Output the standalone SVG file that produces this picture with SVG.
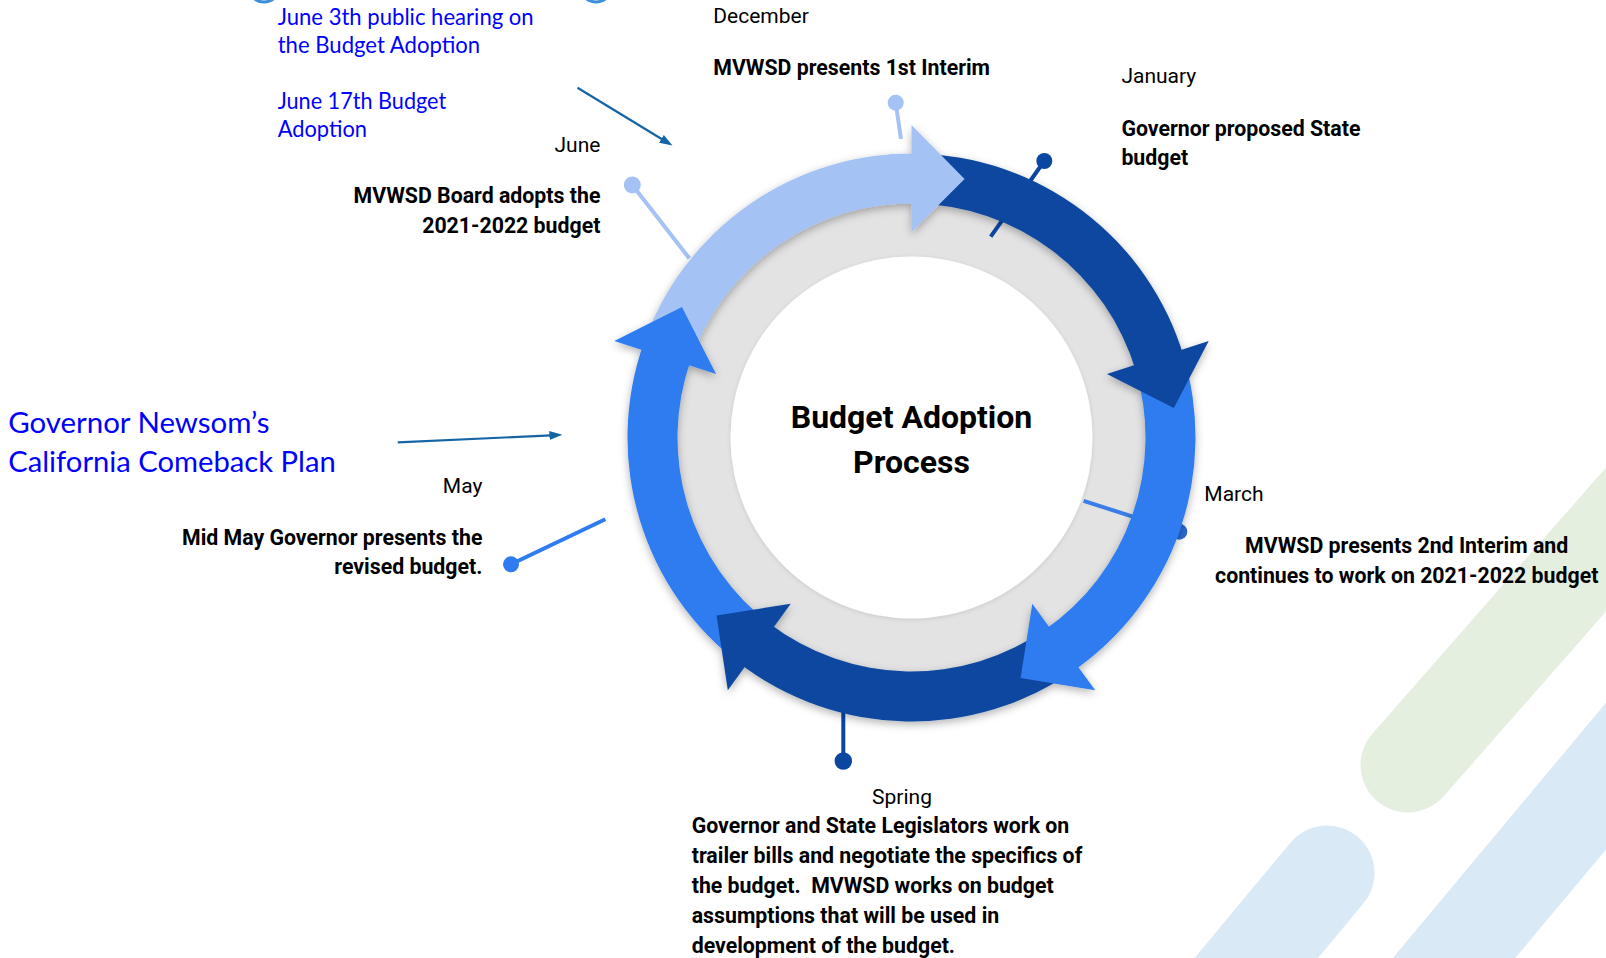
<svg xmlns="http://www.w3.org/2000/svg" width="1606" height="958" viewBox="0 0 1606 958">
  <style>
    .lbl { font-family: Roboto, "Liberation Sans", sans-serif; font-size: 21px; fill: #000; }
    .txt { font-family: Roboto, "Liberation Sans", sans-serif; font-size: 21.3px; font-weight: 700; fill: #000; }
    .title { font-family: Roboto, "Liberation Sans", sans-serif; font-size: 32px; font-weight: 700; fill: #000; text-anchor: middle; }
    .note { font-family: Lato, "Open Sans", sans-serif; fill: #0000ff; }
    .end { text-anchor: end; }
    .mid { text-anchor: middle; }
    .light { fill: #a4c2f4; }
    .dark { fill: #0b46a0; }
    .med { fill: #2f7cf0; }
    .lead { fill: none; stroke-width: 4; stroke-linecap: butt; }
    .ann { fill: none; stroke: #1565a6; stroke-width: 2.2; }
  </style>
  <defs>
    <filter id="ringShadow" x="-15%" y="-15%" width="130%" height="130%">
      <feDropShadow dx="0" dy="3" stdDeviation="4" flood-color="#000" flood-opacity="0.3"/>
    </filter>
    <filter id="softShadow" x="-10%" y="-10%" width="120%" height="120%">
      <feDropShadow dx="0" dy="1" stdDeviation="2" flood-color="#000" flood-opacity="0.12"/>
    </filter>
    <marker id="annHead" markerUnits="userSpaceOnUse" markerWidth="13" markerHeight="9" refX="7" refY="4.5" orient="auto">
      <path d="M0,0 L13,4.5 L0,9 Z" fill="#1565a6"/>
    </marker>
  </defs>

  <rect width="1606" height="958" fill="#fff"/>

  <!-- decorative stripes, bottom right -->
  <g id="decor">
    <line x1="1408" y1="765" x2="1804" y2="314" stroke="#e5efe0" stroke-width="95" stroke-linecap="round"/>
    <line x1="1327" y1="873" x2="1135" y2="1104" stroke="#d9eaf6" stroke-width="95" stroke-linecap="round"/>
    <line x1="1834" y1="503" x2="1257" y2="1194" stroke="#d9eaf6" stroke-width="94"/>
  </g>

  <!-- round edges cut by the top border -->
  <g id="top-edge">
    <circle cx="264" cy="-14" r="16" fill="none" stroke="#3d8ed8" stroke-width="3"/>
    <circle cx="596" cy="-14" r="16" fill="none" stroke="#3d8ed8" stroke-width="3"/>
  </g>

  <!-- hub: grey ring and white centre -->
  <g id="hub">
    <circle cx="911.5" cy="437.5" r="236" fill="#e3e3e3"/>
    <circle cx="911.5" cy="437.5" r="181" fill="#fff" filter="url(#softShadow)"/>
    <text class="title" x="911.5" y="428.3">Budget Adoption</text>
    <text class="title" x="911.5" y="472.7">Process</text>
  </g>

  <!-- leader lines, pins and annotation arrows -->
  <g id="connectors">
    <line class="lead" x1="895.7" y1="102.7" x2="901" y2="139" stroke="#a4c2f4"/>
    <circle cx="895.7" cy="102.7" r="8" class="light"/>
    <line class="lead" x1="1044.3" y1="161" x2="990.7" y2="236.7" stroke="#0b46a0"/>
    <circle cx="1044.3" cy="161" r="8" class="dark"/>
    <line class="lead" x1="632.3" y1="185" x2="689.3" y2="258.3" stroke="#a4c2f4" stroke-width="4.5"/>
    <circle cx="632.3" cy="185" r="8.5" class="light"/>
    <line class="lead" x1="511" y1="564.3" x2="605.3" y2="519.3" stroke="#2f7cf0"/>
    <circle cx="511" cy="564.3" r="8" class="med"/>
    <line class="lead" x1="1083.6" y1="500.8" x2="1179.3" y2="531.7" stroke="#3a7de8"/>
    <circle cx="1179.3" cy="531.7" r="8" fill="#2a6ad4"/>
    <line class="lead" x1="843.3" y1="700" x2="843.3" y2="761" stroke="#0b46a0"/>
    <circle cx="843.3" cy="761" r="8.7" class="dark"/>
    <line class="ann" x1="577.5" y1="87.7" x2="667.4" y2="142.5" marker-end="url(#annHead)"/>
    <line class="ann" x1="397.7" y1="442.4" x2="556.4" y2="435.1" marker-end="url(#annHead)"/>
  </g>

  <!-- cycle arrows: five 72-degree bands, heads drawn last -->
  <g id="cycle" filter="url(#ringShadow)">
    <path class="light" d="M642.65,345.98 A284,284 0 0 1 918.93,153.60 L917.63,203.58 A234,234 0 0 0 689.98,362.09 Z"/>
    <path class="dark" d="M915.47,153.53 A284,284 0 0 1 1183.80,356.84 L1135.86,371.04 A234,234 0 0 0 914.77,203.52 Z"/>
    <path class="med" d="M1182.80,353.52 A284,284 0 0 1 1072.36,671.55 L1044.04,630.35 A234,234 0 0 0 1135.04,368.30 Z"/>
    <path class="dark" d="M1075.21,669.57 A284,284 0 0 1 738.61,662.81 L769.05,623.14 A234,234 0 0 0 1046.38,628.71 Z"/>
    <path class="med" d="M741.38,664.91 A284,284 0 0 1 643.79,342.70 L690.92,359.39 A234,234 0 0 0 771.33,624.87 Z"/>
    <polygon class="light" points="911.5,232 911.5,125 964.59,178.89"/>
    <polygon class="dark" points="1106.94,374 1208.71,340.93 1173.86,408.07"/>
    <polygon class="med" points="1032.29,603.75 1095.18,690.32 1020.56,677.92"/>
    <polygon class="dark" points="790.71,603.75 727.82,690.32 716.55,615.52"/>
    <polygon class="med" points="716.06,374 614.29,340.93 681.95,307.10"/>
  </g>

  <!-- stage labels -->
  <g id="node-december">
    <text class="lbl" x="713.3" y="22.7">December</text>
    <text class="txt" x="713.3" y="75">MVWSD presents 1st Interim</text>
  </g>
  <g id="node-january">
    <text class="lbl" x="1121.4" y="83.3">January</text>
    <text class="txt" x="1121.4" y="136">Governor proposed State</text>
    <text class="txt" x="1121.4" y="165">budget</text>
  </g>
  <g id="node-march">
    <text class="lbl" x="1204.3" y="500.7">March</text>
    <text class="txt mid" x="1406.7" y="552.7">MVWSD presents 2nd Interim and</text>
    <text class="txt mid" x="1406.7" y="582.7">continues to work on 2021-2022 budget</text>
  </g>
  <g id="node-spring">
    <text class="lbl mid" x="902" y="804">Spring</text>
    <text class="txt" x="691.7" y="833.3">Governor and State Legislators work on</text>
    <text class="txt" x="691.7" y="863.1">trailer bills and negotiate the specifics of</text>
    <text class="txt" x="691.7" y="892.9" xml:space="preserve">the budget.  MVWSD works on budget</text>
    <text class="txt" x="691.7" y="922.7">assumptions that will be used in</text>
    <text class="txt" x="691.7" y="952.5">development of the budget.</text>
  </g>
  <g id="node-may">
    <text class="lbl end" x="482.4" y="493.3">May</text>
    <text class="txt end" x="482.4" y="545">Mid May Governor presents the</text>
    <text class="txt end" x="482.4" y="574">revised budget.</text>
  </g>
  <g id="node-june">
    <text class="lbl end" x="600.4" y="151.7">June</text>
    <text class="txt end" x="600.4" y="203.3">MVWSD Board adopts the</text>
    <text class="txt end" x="600.4" y="232.7">2021-2022 budget</text>
  </g>

  <!-- notes -->
  <g id="note-june">
    <text class="note" x="277.7" y="25" font-size="22.5" textLength="256" lengthAdjust="spacingAndGlyphs">June 3th public hearing on</text>
    <text class="note" x="277.7" y="53.3" font-size="22.5" textLength="202.5" lengthAdjust="spacingAndGlyphs">the Budget Adoption</text>
    <text class="note" x="277.7" y="109.3" font-size="22.5" textLength="168.5" lengthAdjust="spacingAndGlyphs">June 17th Budget</text>
    <text class="note" x="277.7" y="136.7" font-size="22.5" textLength="89.3" lengthAdjust="spacingAndGlyphs">Adoption</text>
  </g>
  <g id="note-plan">
    <text class="note" x="8.2" y="433.3" font-size="28" textLength="261.2" lengthAdjust="spacingAndGlyphs">Governor Newsom’s</text>
    <text class="note" x="8.2" y="471.7" font-size="28" textLength="327.5" lengthAdjust="spacingAndGlyphs">California Comeback Plan</text>
  </g>
</svg>
